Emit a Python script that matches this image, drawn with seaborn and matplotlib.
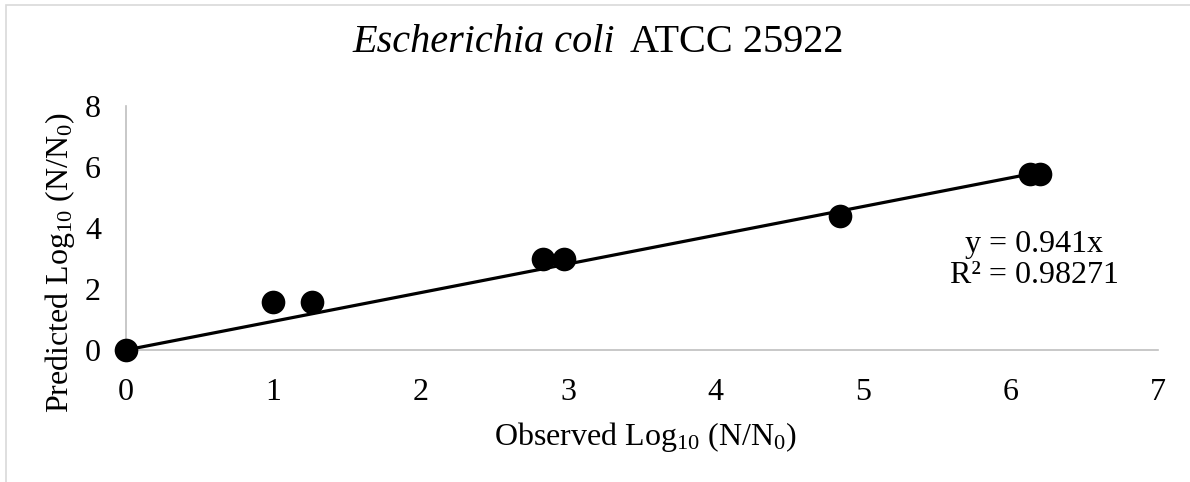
import matplotlib
matplotlib.use("Agg")
import matplotlib.pyplot as plt
import matplotlib.patches as mpatches
import numpy as np
import pandas as pd
import seaborn as sns

# ---- data ----
observed = [0.0, 1.0, 1.26, 2.83, 2.97, 4.84, 6.13, 6.20]
predicted = [0.0, 1.57, 1.57, 2.97, 2.97, 4.38, 5.78, 5.78]
slope = 0.941
r2_text = "0.98271"
x_ticks = [0, 1, 2, 3, 4, 5, 6, 7]
y_ticks = [0, 2, 4, 6, 8]
title_italic = "Escherichia coli"
title_plain = "ATCC 25922"

sns.set_theme(style="white")
plt.rcParams['font.family'] = ['Liberation Serif', 'DejaVu Serif']
plt.rcParams['mathtext.fontset'] = 'custom'
plt.rcParams['mathtext.rm'] = 'Liberation Serif'
plt.rcParams['mathtext.it'] = 'Liberation Serif:italic'
plt.rcParams['mathtext.default'] = 'regular'
plt.rcParams['text.color'] = 'black'

W, H = 1190, 482
fig = plt.figure(figsize=(W / 100, H / 100), dpi=100)
ax = fig.add_axes([126 / W, 1 - 350 / H, (1158 - 126) / W, (350 - 106) / H])

df = pd.DataFrame({"obs": observed, "pred": predicted})
line_x = np.array([0.0, max(observed)])
line_df = pd.DataFrame({"x": line_x, "y": slope * line_x})
sns.lineplot(data=line_df, x="x", y="y", ax=ax, color="black", linewidth=2.3, zorder=2)
sns.scatterplot(data=df, x="obs", y="pred", ax=ax, color="black", s=290,
                edgecolor="black", linewidth=0, zorder=3, clip_on=False)

ax.set_xlim(0, 7)
ax.set_ylim(0, 8)
ax.set_xticks(x_ticks)
ax.set_yticks(y_ticks)
ax.tick_params(axis="both", length=0, labelsize=23, colors="black")
ax.tick_params(axis="x", pad=20)
ax.tick_params(axis="y", pad=18)
for s in ["top", "right"]:
    ax.spines[s].set_visible(False)
for s in ["left", "bottom"]:
    ax.spines[s].set_color("#bfbfbf")
    ax.spines[s].set_linewidth(1.2)
ax.set_xlabel("")
ax.set_ylabel("")

fig.text(645 / W, 1 - 437 / H, "Observed Log$_{10}$ (N/N$_0$)", ha="center", va="center", fontsize=23)
fig.text(60 / W, 1 - 262 / H, "Predicted Log$_{10}$ (N/N$_0$)", ha="center", va="center",
         rotation=90, fontsize=23)

# title in two parts: italic species name + plain strain
renderer = fig.canvas.get_renderer()
t1 = fig.text(0, 1 - 42 / H, title_italic, ha="left", va="center", fontsize=29, fontstyle="italic")
t2 = fig.text(0, 1 - 42 / H, title_plain, ha="left", va="center", fontsize=29)
w1 = t1.get_window_extent(renderer).width
w2 = t2.get_window_extent(renderer).width
gap = 16
total = w1 + gap + w2
x0 = 598 - total / 2
t1.set_x(x0 / W)
t2.set_x((x0 + w1 + gap) / W)

fig.text(1034 / W, 1 - 260 / H, f"y = {slope}x\nR² = {r2_text}", ha="center", va="center",
         fontsize=23, linespacing=1.05)

fig.add_artist(mpatches.Rectangle((6 / W, -0.1), 1.2, 1 - 5 / H + 0.1, transform=fig.transFigure,
                                  fill=False, edgecolor="#d9d9d9", linewidth=1.2))

fig.savefig("out.png", dpi=100, facecolor="white")
